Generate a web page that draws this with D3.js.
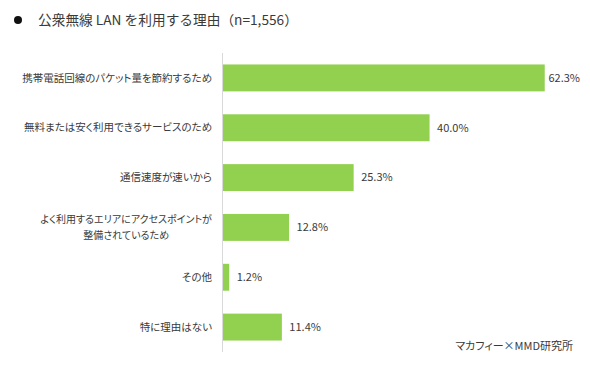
<!DOCTYPE html>
<html><head><meta charset="utf-8">
<script src="https://cdn.jsdelivr.net/npm/d3@7"></script>
<style>
body{margin:0;background:#fff;}
text{font-family:"Noto Sans CJK JP","Noto Sans",sans-serif;fill:#3a3a3a;}
.jp{font-feature-settings:"palt";}
</style></head>
<body><svg id="c" width="590" height="366"></svg>
<script>
const title = "公衆無線 LAN を利用する理由（n=1,556）";
const categories = [
  ["携帯電話回線のパケット量を節約するため"],
  ["無料または安く利用できるサービスのため"],
  ["通信速度が速いから"],
  ["よく利用するエリアにアクセスポイントが", "整備されているため"],
  ["その他"],
  ["特に理由はない"]
];
const values = [62.3, 40.0, 25.3, 12.8, 1.2, 11.4];
const source = "マカフィー×MMD研究所";

const svg = d3.select("#c");
const x = d3.scaleLinear().domain([0, 70]).range([222.5, 584]);
const y = d3.scaleBand().domain(d3.range(values.length)).range([53, 352]).paddingInner(0.46).paddingOuter(0.23);

// title
svg.append("circle").attr("cx", 18).attr("cy", 20).attr("r", 4).attr("fill", "#111");
svg.append("text").attr("x", 38).attr("y", 20).attr("dy", "0.35em")
  .style("font-size", "13.7px").text(title);

// axis line
svg.append("line").attr("x1", 222.5).attr("x2", 222.5).attr("y1", 53).attr("y2", 352)
  .attr("stroke", "#d9d9d9").attr("stroke-width", 1);

// bars
svg.selectAll("rect.bar").data(values).enter().append("rect")
  .attr("x", x(0) + 0.5).attr("y", (d, i) => y(i))
  .attr("width", d => x(d) - x(0)).attr("height", y.bandwidth())
  .attr("fill", "#92d050");

// category labels
categories.forEach((lines, i) => {
  const cy = y(i) + y.bandwidth() / 2;
  const g = svg.append("text").attr("class","jp").style("font-size", lines.length > 1 ? "10px" : "10.5px")
    .attr("text-anchor", lines.length > 1 ? "middle" : "end");
  if (lines.length === 1) {
    g.attr("x", 212).attr("y", cy).attr("dy", "0.35em").text(lines[0]);
  } else {
    const lh = 16;
    lines.forEach((l, j) => {
      g.append("tspan").attr("x", 0).attr("y", cy + (j - (lines.length - 1) / 2) * lh).attr("dy", "0.35em").text(l);
    });
    const w = g.node().getBBox().width;
    g.selectAll("tspan").attr("x", 212 - w / 2);
  }
});

// value labels
values.forEach((v, i) => {
  const t = svg.append("text").style("font-size", "11px")
    .attr("y", y(i) + y.bandwidth() / 2).attr("dy", "0.35em").text(v.toFixed(1) + "%");
  const w = t.node().getComputedTextLength();
  t.attr("x", Math.min(x(v) + 8, 580 - w));
});

// source
svg.append("text").attr("class","jp").attr("x", 573).attr("y", 346).attr("dy", "0.35em")
  .attr("text-anchor", "end").style("font-size", "11px").text(source);
</script></body></html>
